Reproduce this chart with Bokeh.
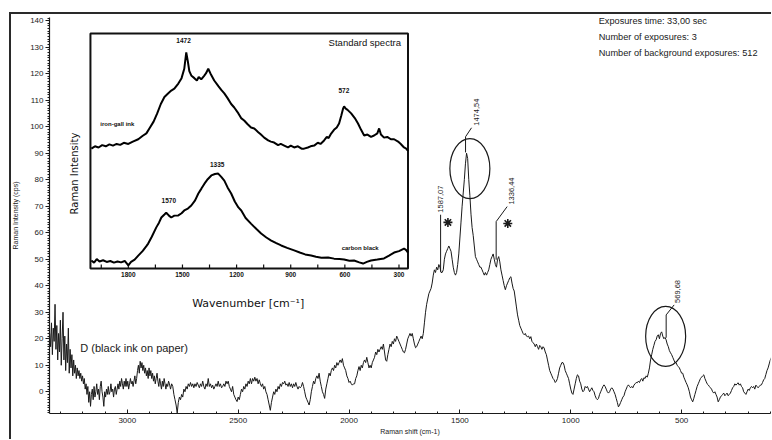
import math
from bokeh.plotting import figure
from bokeh.models import Range1d, SingleIntervalTicker
from bokeh.core.properties import value
from bokeh.embed import file_html
from bokeh.resources import INLINE

# ---------------- data ----------------
# main spectrum: (Raman shift cm-1, intensity cps)
noisy_edge = [
    (3350, 22), (3346, 17), (3342, 26), (3338, 14), (3334, 24), (3330, 19), (3326, 33), (3322, 16),
    (3318, 25), (3314, 12), (3310, 22), (3306, 15), (3302, 27), (3298, 10), (3294, 20), (3290, 30),
    (3286, 12), (3282, 21), (3278, 8), (3274, 18), (3270, 11), (3266, 24), (3262, 7), (3258, 16),
    (3254, 9), (3250, 14), (3246, 6), (3242, 12), (3238, 7), (3234, 10), (3230, 5), (3226, 9),
    (3222, 6), (3218, 8), (3214, 5), (3210, 7), (3206, 4), (3202, 6), (3198, 3), (3194, 5),
    (3190, 1), (3186, 3), (3182, -1), (3178, 2), (3174, -4), (3170, 0), (3166, -5.5), (3162, -1),
    (3158, 1), (3154, -3), (3150, 2), (3146, -2), (3142, 0), (3138, 3), (3134, -1), (3130, 1),
    (3126, -3), (3122, 2), (3118, 4), (3114, 0), (3110, -2), (3106, -5.5), (3102, 0), (3098, -2),
    (3094, 1), (3090, -1), (3086, 2), (3082, -1), (3078, 0), (3074, 3), (3070, 0), (3066, 1),
    (3062, -2), (3058, 1), (3054, 2), (3050, -1), (3046, 1), (3042, 3), (3038, 1), (3034, 4),
    (3030, 2), (3026, 5), (3022, 3), (3018, 1), (3014, 4), (3010, 2), (3006, 5), (3002, 2),
    (2998, 4), (2994, 1), (2990, 3), (2986, 5), (2982, 3), (2978, 4), (2974, 2), (2970, 4),
    (2966, 6), (2962, 3), (2958, 5), (2954, 8), (2950, 10), (2946, 7), (2942, 11.5), (2938, 9),
    (2934, 11), (2930, 8), (2926, 10), (2922, 7), (2918, 9), (2914, 6), (2910, 8), (2906, 5),
    (2902, 9), (2898, 6), (2894, 8), (2890, 5), (2886, 7), (2882, 4), (2878, 6), (2874, 3),
    (2870, 5), (2866, 7), (2862, 4), (2858, 2), (2854, 5), (2850, 3), (2846, 1), (2842, 4),
    (2838, 2), (2834, 5), (2830, 3), (2826, 1), (2822, 3), (2818, 2), (2814, 4), (2810, 3),
]
flat_region = [
    (2805, 1), (2800, 3), (2795, 2), (2790, -1), (2785, -3), (2780, -5), (2775, -8), (2770, -4),
    (2765, -2), (2760, -3), (2755, -1), (2750, -2), (2745, 1), (2740, 0), (2735, 2), (2730, 1),
    (2725, 3), (2720, 2), (2715, 3.5), (2710, 2), (2705, 3), (2700, 1.5), (2695, 3), (2690, 2),
    (2685, 3.5), (2680, 2.5), (2675, 1.5), (2670, 3), (2665, 2), (2660, 4), (2655, 2), (2650, 1),
    (2645, 3), (2640, 2), (2635, 5), (2630, 2), (2625, 3), (2620, 1.5), (2615, 2.5), (2610, 1),
    (2605, 2), (2600, 3), (2595, 2), (2590, 4), (2585, 2), (2580, 3), (2575, 1.5), (2570, 2),
    (2565, 3), (2560, 2), (2555, 4), (2550, 3), (2545, 4), (2540, 2), (2535, 1), (2530, 0),
    (2525, 2), (2520, -1), (2515, -2), (2510, -3), (2505, -3.7), (2500, -2), (2495, -3), (2490, -1),
    (2485, 1), (2480, 0), (2475, 2), (2470, 1), (2465, 3), (2460, 2), (2455, 4), (2450, 3),
    (2445, 5), (2440, 3), (2435, 5), (2430, 4), (2425, 5.5), (2420, 4), (2415, 5), (2410, 3),
    (2405, 4.5), (2400, 3), (2395, 2), (2390, 3), (2385, 1), (2380, 2), (2375, 0), (2370, -1),
    (2365, -3), (2360, -5), (2355, -7), (2350, -4), (2345, -2), (2340, 0), (2335, -1), (2330, 1),
    (2325, 0), (2320, 2), (2315, 1), (2310, 3), (2305, 2), (2300, 3.5), (2295, 3), (2290, 4),
    (2285, 2.5), (2280, 3), (2275, 2), (2270, 3.5), (2265, 2), (2260, 3), (2255, 1.5), (2250, 3),
    (2245, 2), (2240, 3.5), (2235, 2), (2230, 1), (2225, 2), (2220, 1.5), (2215, 2), (2210, 3.5),
    (2205, 2), (2200, 0), (2195, -2), (2190, -3), (2185, -4), (2180, -5), (2175, -3), (2170, 0),
    (2165, 2), (2160, 4), (2155, 3), (2150, 5), (2145, 6), (2140, 5), (2135, 7), (2130, 4),
    (2125, 2), (2120, 0), (2115, -1), (2110, -2.5), (2105, 1), (2100, 3), (2095, 5), (2090, 7),
    (2085, 6), (2080, 8), (2075, 9), (2070, 8), (2065, 10), (2060, 9), (2055, 11), (2050, 10),
    (2045, 11), (2040, 12), (2035, 11), (2030, 12.5), (2025, 10), (2020, 9), (2015, 8), (2010, 6),
    (2005, 5), (2000, 3.5), (1995, 4), (1990, 3), (1985, 2.5), (1980, 3), (1975, 3), (1970, 5),
]
rising_region = [
    (1965, 6), (1960, 8), (1955, 9.5), (1950, 8), (1945, 10), (1940, 9), (1935, 11), (1930, 12),
    (1925, 11), (1920, 13), (1915, 11), (1910, 9), (1905, 10), (1900, 9), (1895, 11), (1890, 12),
    (1885, 13), (1880, 15), (1875, 14), (1870, 16), (1865, 15), (1860, 16), (1855, 17), (1850, 16),
    (1845, 18), (1840, 15), (1835, 12), (1830, 11.5), (1825, 14), (1820, 16), (1815, 18), (1810, 17),
    (1805, 19), (1800, 18), (1795, 20), (1790, 19), (1785, 21), (1780, 20), (1775, 19), (1770, 18),
    (1765, 17), (1760, 16), (1755, 15), (1750, 14.7), (1745, 16), (1740, 18), (1735, 20), (1730, 21),
    (1725, 22), (1720, 21), (1715, 22), (1710, 20), (1705, 18), (1700, 16.6), (1695, 17), (1690, 18),
    (1685, 19), (1680, 20), (1675, 21), (1670, 20), (1665, 22), (1660, 26), (1655, 30), (1650, 33),
    (1645, 35), (1640, 37), (1635, 38), (1630, 39), (1625, 41), (1620, 44), (1615, 46), (1610, 45),
]
band_region = [
    (1605, 47), (1600, 46), (1595, 48), (1590, 47), (1585, 45), (1580, 45), (1575, 46), (1570, 50),
    (1565, 52), (1560, 53), (1555, 54), (1550, 55), (1545, 54), (1540, 53), (1535, 50), (1530, 47),
    (1525, 45), (1520, 44), (1515, 45), (1510, 48), (1505, 52), (1500, 58), (1495, 64), (1490, 70),
    (1485, 75), (1480, 80), (1475, 86), (1470, 90), (1465, 88), (1460, 80), (1455, 74), (1450, 67),
    (1445, 62), (1440, 59), (1435, 55), (1430, 51), (1425, 50), (1420, 49), (1415, 48), (1410, 47),
    (1405, 47), (1400, 46), (1395, 45), (1390, 44), (1385, 45), (1380, 44), (1375, 45), (1370, 46),
    (1365, 48), (1360, 50), (1355, 51), (1350, 52), (1345, 50), (1340, 48), (1335, 47), (1330, 50),
    (1325, 51), (1320, 49), (1315, 46), (1310, 44), (1305, 42), (1300, 40), (1295, 38.5), (1290, 40),
    (1285, 41), (1280, 42), (1275, 43), (1270, 43.4), (1265, 41), (1260, 39), (1255, 38), (1250, 35),
    (1245, 32), (1240, 29), (1235, 27), (1230, 25), (1225, 24), (1220, 23), (1215, 22), (1210, 21.5),
    (1205, 22), (1200, 21), (1195, 20.8), (1190, 21), (1185, 20), (1180, 20.8), (1175, 19), (1170, 18.5),
    (1165, 18), (1160, 17), (1155, 18), (1150, 17), (1145, 16), (1140, 17.5), (1135, 17), (1130, 16),
    (1125, 17), (1120, 16.5), (1115, 15), (1110, 14), (1105, 12), (1100, 10), (1095, 8), (1090, 7),
    (1085, 6), (1080, 5), (1075, 4.5), (1070, 3.5), (1065, 4), (1060, 5), (1055, 7), (1050, 9),
    (1045, 10), (1040, 11), (1035, 11), (1030, 10), (1025, 8), (1020, 7), (1015, 6), (1010, 5),
]
low_shift_region = [
    (1005, 3), (1000, 1), (995, -0.5), (990, -1), (985, 1), (980, 3), (975, 5), (970, 6.4),
    (965, 6), (960, 4), (955, 3), (950, 1), (945, 0), (940, 0.5), (935, 2), (930, 1.5),
    (925, 2), (920, 1), (915, 0), (910, 0.8), (905, 1.5), (900, 0.5), (895, 0), (890, -1.5),
    (885, -2.5), (880, -3), (875, -2.5), (870, -1), (865, 0), (860, 1), (855, 2), (850, 2.6),
    (845, 2), (840, 1), (835, 0), (830, -0.5), (825, 0), (820, 1), (815, 1.5), (810, 1),
    (805, 0), (800, -1), (795, -2.5), (790, -4), (785, -5.7), (780, -5), (775, -4), (770, -3),
    (765, -2), (760, -1.5), (755, 0), (750, 1), (745, 2), (740, 2.6), (735, 2), (730, 1.5),
    (725, 2), (720, 1.5), (715, 2.5), (710, 3), (705, 3.5), (700, 3.4), (695, 4), (690, 3.5),
    (685, 4.5), (680, 5), (675, 4), (670, 5.3), (665, 5), (660, 6), (655, 5.5), (650, 7),
    (645, 9), (640, 12), (635, 14), (630, 16), (625, 17.5), (620, 19), (615, 19.6), (610, 21),
    (605, 21.5), (600, 20), (595, 22), (590, 22.6), (585, 21), (580, 20), (575, 20.5), (570, 19.6),
    (565, 18), (560, 17), (555, 15.5), (550, 14.7), (545, 14), (540, 13), (535, 12), (530, 11),
    (525, 11), (520, 10), (515, 9.5), (510, 9), (505, 8), (500, 7), (495, 7), (490, 5.5),
    (485, 4.5), (480, 3.5), (475, 2.6), (470, 1.5), (465, 0), (460, -2), (455, -3), (450, -3.8),
    (445, -2.5), (440, -1), (435, 0.5), (430, 2), (425, 3), (420, 4), (415, 5), (410, 5.5),
    (405, 6), (400, 6.4), (395, 5), (390, 4), (385, 3), (380, 2.6), (375, 2), (370, 1.5),
    (365, 1), (360, 0), (355, -0.5), (350, 0), (345, -1), (340, -2), (335, -3.8), (330, -3),
    (325, -2), (320, -1.5), (315, -1), (310, -0.5), (305, -1.5), (300, -1), (295, -0.5), (290, -1.5),
    (285, -1), (280, -0.5), (275, 0.5), (270, 1.5), (265, 2), (260, 3), (255, 2.5), (250, 3),
    (245, 3.4), (240, 2.5), (235, 3), (230, 2), (225, 1.5), (220, 0), (215, -0.5), (210, -1),
    (205, 0), (200, 1), (195, 0.5), (190, 1.5), (185, 2), (180, 1.5), (175, 2), (170, 1),
    (165, 2.5), (160, 2), (155, 1.5), (150, 2), (145, 2.5), (140, 2.6), (135, 3.5), (130, 4.5),
    (125, 5), (120, 6.5), (115, 8), (110, 9), (105, 10.5), (100, 12), (95, 13),
]

# inset: standard spectra (wavenumber cm-1, relative intensity 0-100 of inset box)
iron_gall_ink = [
    (2005, 51), (1985, 52), (1965, 51.5), (1945, 52.5), (1925, 52), (1905, 52.8), (1885, 52.3),
    (1865, 53), (1845, 52.6), (1825, 53.5), (1800, 53), (1775, 54), (1745, 55), (1720, 56.5),
    (1700, 57.5), (1680, 60), (1660, 62.5), (1640, 66), (1620, 70), (1600, 73), (1580, 74.5),
    (1562, 75.7), (1545, 76.5), (1523, 78.7), (1505, 81), (1490, 85), (1479, 92), (1470, 88),
    (1462, 84), (1450, 82), (1434, 81), (1420, 80), (1410, 81.5), (1396, 80.5), (1380, 82),
    (1370, 83), (1357, 85), (1345, 83), (1324, 80), (1300, 77.5), (1285, 76), (1268, 74.5),
    (1250, 72.5), (1230, 70), (1213, 68.5), (1190, 66), (1175, 64), (1158, 63), (1140, 61.5),
    (1120, 60), (1102, 59.6), (1080, 58), (1065, 57), (1047, 55.7), (1025, 54.5), (1010, 54),
    (992, 53.6), (970, 52.5), (955, 53), (936, 52.3), (915, 51.5), (900, 52.3), (881, 51.5),
    (860, 52), (840, 51), (826, 51), (805, 51.5), (790, 52), (770, 52.3), (750, 53.5), (735, 53),
    (715, 54.5), (700, 56), (690, 55.5), (676, 57.4), (660, 59), (645, 60), (632, 61.7), (620, 65),
    (610, 68), (604, 69), (595, 68), (585, 67.5), (565, 66), (545, 64), (527, 61.7), (510, 59),
    (493, 56.6), (475, 57), (455, 56), (438, 56.6), (420, 57.5), (410, 59.6), (400, 57),
    (383, 55.7), (365, 56), (345, 55), (327, 55), (305, 54), (290, 53), (272, 51.5), (260, 51),
    (250, 50),
]
carbon_black = [
    (2005, 3.4), (1990, 2.5), (1975, 4), (1960, 3), (1940, 3.5), (1920, 2.8), (1900, 3.2),
    (1880, 2.5), (1860, 3), (1840, 2.6), (1820, 3.2), (1800, 1.3), (1785, 2.8), (1765, 3.8),
    (1745, 5.5), (1720, 7.5), (1700, 9.5), (1690, 10.6), (1670, 13.5), (1645, 17.5), (1630, 19.5),
    (1617, 21.7), (1600, 23), (1590, 23.8), (1575, 22.5), (1562, 21.7), (1545, 22.5), (1523, 22.6),
    (1505, 23.5), (1490, 24.7), (1470, 25.5), (1451, 26.8), (1430, 29), (1412, 31.9), (1395, 34),
    (1379, 36), (1360, 38), (1340, 39.6), (1320, 40.2), (1302, 40.4), (1285, 39), (1268, 37.4),
    (1250, 34.5), (1230, 31.9), (1210, 28.5), (1190, 26), (1174, 24.7), (1150, 21.5), (1119, 19),
    (1090, 16.8), (1064, 14.9), (1035, 13.2), (1008, 11.9), (980, 10.8), (953, 9.8), (920, 8.8),
    (881, 7.7), (850, 6.8), (820, 6), (787, 5.5), (760, 5), (730, 4.6), (693, 4.7), (660, 4.2),
    (630, 4), (604, 3.8), (575, 3.3), (549, 3.4), (520, 2.6), (499, 2.1), (478, 2.8), (455, 3.4),
    (420, 3.8), (383, 4.3), (355, 5.5), (327, 6.8), (300, 7.4), (272, 8.5), (260, 7.8), (250, 6.8),
]

# labelled bands of the sample spectrum
peak_positions = [1587.07, 1474.54, 1336.44, 569.68]
peak_labels = ["1587,07", "1474,54", "1336,44", "569,68"]
leader_base = [45.3, 90.3, 49.8, 20.4]      # intensity where the leader starts
leader_top = [66.8, 96.2, 64.2, 29.0]       # intensity where the leader bends
circled_x = [1455, 572]
circled_y = [84.2, 20.9]
starred_x = [1554, 1284]
starred_y = [63.9, 63.5]

inset_band_values = [1472, 572, 1335, 1570]
inset_band_labels = ["1472", "572", "1335", "1570"]
inset_band_y = [97, 75.7, 44.3, 29]
inset_tick_values = [1950, 1800, 1650, 1500, 1350, 1200, 1050, 900, 750, 600, 450, 300]
inset_tick_labels = ["1800", "1500", "1200", "900", "600", "300"]
inset_tick_label_values = [1800, 1500, 1200, 900, 600, 300]

info_lines = ["Exposures time: 33,00 sec", "Number of exposures: 3",
              "Number of background exposures: 512"]
sample_name = "D (black ink on paper)"

# ---------------- layout ----------------
W, H = 762, 427
B_LEFT, B_RIGHT, B_TOP, B_BOTTOM = 39, 1, 5, 26
FW, FH = W - B_LEFT - B_RIGHT, H - B_TOP - B_BOTTOM
X_START = 3351
X_END = X_START - FW * 4.504          # keeps 0.222 px per cm-1
Y_START, Y_END = -8.2, 141.2
UX = (X_START - X_END) / FW          # cm-1 per px
UY = (Y_END - Y_START) / FH          # cps per px

# inset box in frame pixels
IN_L, IN_R, IN_T, IN_B = 41, 359, 16, 251
INSET_X = (2010, 250)
INSET_Y = (0, 100)
IUX = (INSET_X[0] - INSET_X[1]) / (IN_R - IN_L)
IUY = (INSET_Y[1] - INSET_Y[0]) / (IN_B - IN_T)

p = figure(width=W, height=H, output_backend="svg", toolbar_location=None,
           x_range=Range1d(X_START, X_END), y_range=Range1d(Y_START, Y_END),
           min_border_left=B_LEFT, min_border_right=B_RIGHT,
           min_border_top=B_TOP, min_border_bottom=B_BOTTOM,
           background_fill_color="white", border_fill_color=None,
           outline_line_color=None)
p.margin = (12, 0, 0, 9)
p.styles = {"box-shadow": "inset 2px 2px 0 0 #2a2a2a", "background-color": "white"}
p.grid.visible = False

p.extra_x_ranges = {"inset": Range1d(INSET_X[0] + IN_L * IUX,
                                     INSET_X[1] - (FW - IN_R) * IUX)}
p.extra_y_ranges = {"inset": Range1d(INSET_Y[0] - (FH - IN_B) * IUY,
                                     INSET_Y[1] + IN_T * IUY)}

FONT = value("Liberation Sans")
INK = "#1a1a1a"

# axes
xa, ya = p.xaxis[0], p.yaxis[0]
xa.ticker = SingleIntervalTicker(interval=500, num_minor_ticks=5)
ya.ticker = SingleIntervalTicker(interval=10, num_minor_ticks=10)
xa.axis_label = "Raman shift (cm-1)"
ya.axis_label = "Raman Intensity (cps)"
for ax in (xa, ya):
    ax.axis_line_color = INK
    ax.axis_line_width = 1.2
    ax.major_tick_line_color = INK
    ax.minor_tick_line_color = INK
    ax.major_label_text_font = "Liberation Sans"
    ax.major_label_text_font_size = "8px"
    ax.major_label_text_color = INK
    ax.axis_label_text_font = "Liberation Sans"
    ax.axis_label_text_font_size = "7px"
    ax.axis_label_text_font_style = "normal"
    ax.axis_label_text_color = INK
xa.major_tick_in, xa.major_tick_out = 4, 0
xa.minor_tick_in, xa.minor_tick_out = 2, 0
xa.major_label_standoff = 4
xa.axis_label_standoff = 2
ya.major_tick_in, ya.major_tick_out = 0, 4
ya.minor_tick_in, ya.minor_tick_out = 0, 2
ya.major_label_standoff = 2
ya.axis_label_standoff = 8

# main spectrum
spectrum = noisy_edge + flat_region + rising_region + band_region + low_shift_region
raman_shift = [s for s, _ in spectrum]
intensity = [v for _, v in spectrum]
p.line(raman_shift, intensity, line_color=INK, line_width=1)

# peak leaders and labels
diag_dx = [0, 6, 11, 8]      # px to the right
diag_dy = [0, 9, 15, 10]     # px upward
text_dx = [0, 5, 4, 3]
p.segment(x0=peak_positions, y0=leader_base, x1=peak_positions, y1=leader_top,
          line_color=INK, line_width=1)
dx1 = [x - d * UX for x, d in zip(peak_positions, diag_dx)]
dy1 = [y + d * UY for y, d in zip(leader_top, diag_dy)]
p.segment(x0=peak_positions, y0=leader_top, x1=dx1, y1=dy1, line_color=INK, line_width=1)
tx = [x - d * UX for x, d in zip(dx1, text_dx)]
ty = [y + 2 * UY for y in dy1]
p.text(x=tx, y=ty, text=peak_labels, angle=math.pi / 2, text_align="left",
       text_baseline="middle", text_font=FONT, text_font_size="7.5px", text_color=INK)

p.ellipse(x=circled_x, y=circled_y, width=40, height=60, width_units="screen",
          height_units="screen", fill_color=None, line_color=INK, line_width=1.2)
p.scatter(x=starred_x, y=starred_y, marker="asterisk", size=9, line_color=INK, line_width=1.6)

# sample name and acquisition info
p.text(x=[3212], y=[16.6], text=[sample_name], text_align="left", text_baseline="middle",
       text_font=FONT, text_font_size="11px", text_color=INK)
info_y = [139.7 - i * 16 * UY for i in range(len(info_lines))]
p.text(x=[874] * len(info_lines), y=info_y, text=info_lines, text_align="left",
       text_baseline="middle", text_font=FONT, text_font_size="9.2px", text_color=INK)

# ---------------- inset ----------------
R = dict(x_range_name="inset", y_range_name="inset")
p.quad(left=[INSET_X[0]], right=[INSET_X[1]], bottom=[INSET_Y[0]], top=[INSET_Y[1]],
       fill_color="white", line_color="#111111", line_width=2, **R)
p.segment(x0=inset_tick_values, y0=[0] * len(inset_tick_values), x1=inset_tick_values,
          y1=[4 * IUY] * len(inset_tick_values), line_color="#111111", line_width=1.2, **R)
p.text(x=inset_tick_label_values, y=[0] * len(inset_tick_label_values), text=inset_tick_labels,
       text_align="center", text_baseline="top", y_offset=3, text_font=FONT,
       text_font_size="6.5px", text_font_style="bold", text_color="#111111", **R)

p.line([w for w, _ in iron_gall_ink], [v for _, v in iron_gall_ink],
       line_color="black", line_width=2, **R)
p.line([w for w, _ in carbon_black], [v for _, v in carbon_black],
       line_color="black", line_width=2, **R)

p.text(x=inset_band_values, y=inset_band_y, text=inset_band_labels, text_align="center",
       text_baseline="middle", x_offset=[-4, -6, 5, -1], text_font=FONT, text_font_size="6.5px",
       text_font_style="bold", text_color="#111111", **R)
p.text(x=[1955], y=[61.7], text=["iron-gall ink"], text_align="left", text_baseline="middle",
       text_font=FONT, text_font_size="6px", text_font_style="bold", text_color="#111111", **R)
p.text(x=[515], y=[8.9], text=["carbon black"], text_align="center", text_baseline="middle",
       text_font=FONT, text_font_size="6px", text_font_style="bold", text_color="#111111", **R)
p.text(x=[289], y=[96], text=["Standard spectra"], text_align="right", text_baseline="middle",
       text_font=FONT, text_font_size="9.5px", text_color="#111111", **R)
p.text(x=[2098.6], y=[40.4], text=["Raman Intensity"], angle=math.pi / 2, text_align="center",
       text_baseline="middle", text_font=value("DejaVu Sans"), text_font_size="10px",
       text_color="#111111", **R)
p.text(x=[1135.5], y=[-14.9], text=["Wavenumber [cm\u207b\u00b9]"], text_align="center",
       text_baseline="middle", text_font=value("DejaVu Sans"), text_font_size="11px",
       text_color="#111111", **R)

open("out.html", "w").write(file_html(p, INLINE))
